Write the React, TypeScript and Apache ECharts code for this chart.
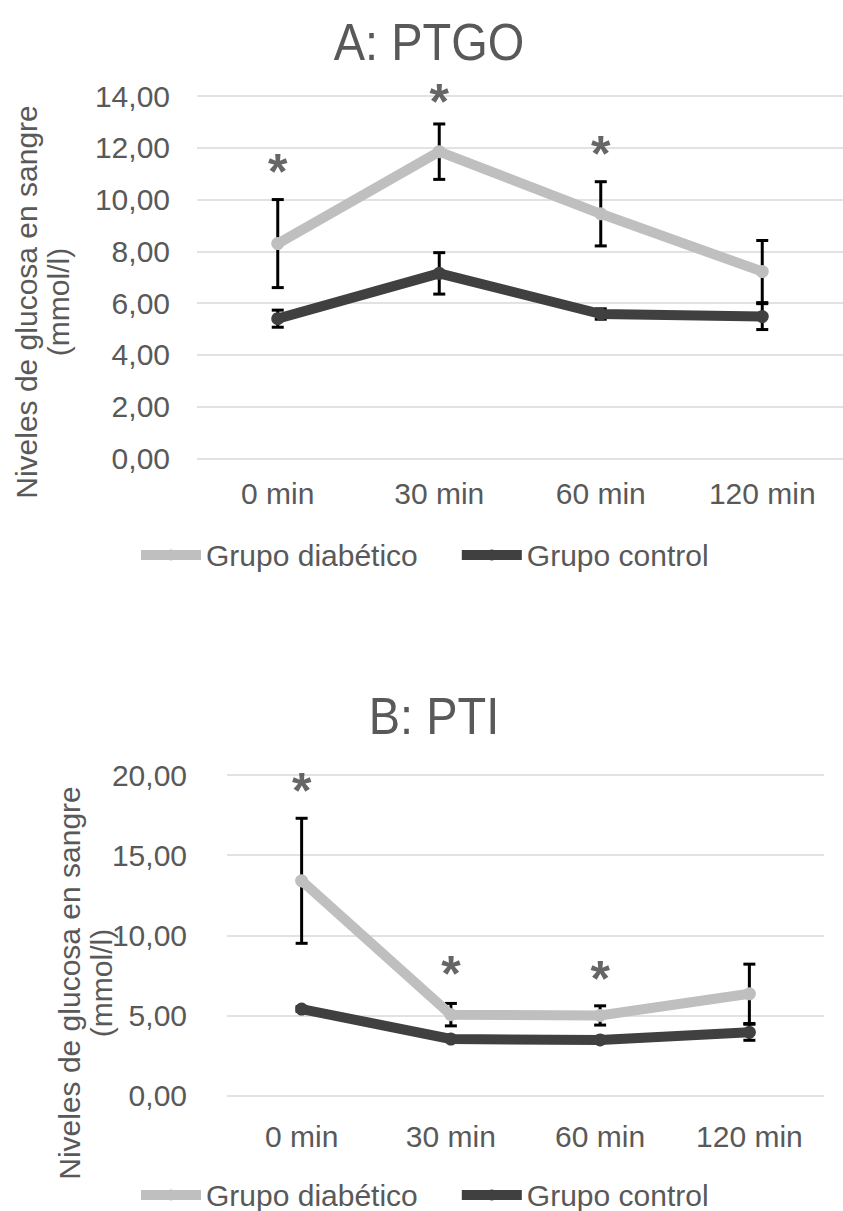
import React, { useEffect, useRef } from "react";
import * as echarts from "echarts";

const categories = ["0 min", "30 min", "60 min", "120 min"];
const seriesNames = ["Grupo diabético", "Grupo control"];

// A: PTGO
const ptgoDiab = [8.3, 11.85, 9.45, 7.22];
const ptgoDiabErr = [1.7, 1.07, 1.24, 1.2];
const ptgoCtrl = [5.4, 7.15, 5.58, 5.48];
const ptgoCtrlErr = [0.33, 0.8, 0.2, 0.5];
const ptgoStar = [11.4, 14.1, 12.1, null];

// B: PTI
const ptiDiab = [13.4, 5.05, 5.0, 6.35];
const ptiDiabErr = [3.9, 0.7, 0.6, 1.85];
const ptiCtrl = [5.4, 3.53, 3.47, 3.95];
const ptiCtrlErr = [0.15, 0.1, 0.1, 0.5];
const ptiStar = [19.55, 8.14, 7.83, null];

const FONT = "'Liberation Sans', Arial, sans-serif";
const TXT = "#595959";
const LIGHT = "#BFBFBF";
const DARK = "#404040";

function errData(vals: number[], errs: number[]) {
  return vals.map((v, i) => [i, v - errs[i], v + errs[i]]);
}

function errSeries(idx: number, vals: number[], errs: number[]) {
  return {
    type: "custom",
    xAxisIndex: idx,
    yAxisIndex: idx,
    z: 1,
    silent: true,
    data: errData(vals, errs),
    renderItem: (params: any, api: any) => {
      const x = api.value(0);
      const lo = api.coord([x, api.value(1)]);
      const hi = api.coord([x, api.value(2)]);
      const cw = 6;
      const style = { stroke: "#000", lineWidth: 3 };
      return {
        type: "group",
        children: [
          { type: "line", shape: { x1: lo[0], y1: lo[1], x2: hi[0], y2: hi[1] }, style },
          { type: "line", shape: { x1: hi[0] - cw, y1: hi[1], x2: hi[0] + cw, y2: hi[1] }, style },
          { type: "line", shape: { x1: lo[0] - cw, y1: lo[1], x2: lo[0] + cw, y2: lo[1] }, style },
        ],
      };
    },
  };
}

function lineSeries(idx: number, name: string, data: number[], color: string) {
  return {
    type: "line",
    name,
    xAxisIndex: idx,
    yAxisIndex: idx,
    z: 3,
    data,
    symbol: "circle",
    symbolSize: 13,
    itemStyle: { color },
    lineStyle: { color, width: 10 },
  };
}

function starSeries(idx: number, data: (number | null)[]) {
  return {
    type: "scatter",
    xAxisIndex: idx,
    yAxisIndex: idx,
    z: 4,
    silent: true,
    clip: false,
    symbolSize: 1,
    itemStyle: { color: "rgba(0,0,0,0)" },
    data: data.map((v, i) => (v == null ? null : [i, v])),
    label: {
      show: true,
      position: "inside",
      formatter: "*",
      fontSize: 50,
      fontWeight: "bold",
      fontFamily: FONT,
      color: DARK,
      offset: [0, 9],
    },
  };
}

const fmt = (v: number) => v.toFixed(2).replace(".", ",");

export default function App() {
  const ref = useRef<HTMLDivElement>(null);
  useEffect(() => {
    if (!ref.current) return;
    const chart = echarts.init(ref.current, null, { renderer: "svg" });
    const axisLabel = { color: TXT, fontSize: 30, fontFamily: FONT };
    const legendBase = {
      data: seriesNames,
      orient: "horizontal",
      itemWidth: 60,
      itemHeight: 14,
      itemGap: 39,
      padding: 0,
      textStyle: { color: TXT, fontSize: 30, fontFamily: FONT },
      lineStyle: { width: 10 },
    };
    chart.setOption({
      animation: false,
      backgroundColor: "#fff",
      grid: [
        { left: 197, top: 96, width: 660, height: 362.5 },
        { left: 227, top: 775, width: 597, height: 320.6 },
      ],
      xAxis: [0, 1].map((i) => ({
        type: "category",
        gridIndex: i,
        data: categories,
        boundaryGap: true,
        axisLine: { show: false },
        axisTick: { show: false },
        axisLabel: { ...axisLabel, margin: i === 0 ? 20 : 26 },
      })),
      yAxis: [
        {
          type: "value",
          gridIndex: 0,
          min: 0,
          max: 14,
          interval: 2,
          axisLine: { show: false },
          axisTick: { show: false },
          splitLine: { lineStyle: { color: "#D9D9D9", width: 1.5 } },
          axisLabel: { ...axisLabel, margin: 27, formatter: fmt },
        },
        {
          type: "value",
          gridIndex: 1,
          min: 0,
          max: 20,
          interval: 5,
          axisLine: { show: false },
          axisTick: { show: false },
          splitLine: { lineStyle: { color: "#D9D9D9", width: 1.5 } },
          axisLabel: { ...axisLabel, margin: 40, formatter: fmt },
        },
      ],
      legend: [
        { ...legendBase, left: 136, top: 540 },
        { ...legendBase, left: 136, top: 1180 },
      ],
      graphic: [
        {
          type: "text",
          x: 429,
          y: 42,
          scaleY: 1.12,
          style: { text: "A: PTGO", fontSize: 47, fontFamily: FONT, fill: TXT, textAlign: "center", textVerticalAlign: "middle" },
        },
        {
          type: "text",
          x: 434,
          y: 716,
          scaleY: 1.12,
          style: { text: "B: PTI", fontSize: 47, fontFamily: FONT, fill: TXT, textAlign: "center", textVerticalAlign: "middle" },
        },
        {
          type: "text",
          x: 42,
          y: 302,
          rotation: Math.PI / 2,
          style: {
            text: "Niveles de glucosa en sangre\n(mmol/l)",
            fontSize: 30,
            lineHeight: 32,
            fontFamily: FONT,
            fill: TXT,
            textAlign: "center",
            textVerticalAlign: "middle",
          },
        },
        {
          type: "text",
          x: 85,
          y: 983,
          rotation: Math.PI / 2,
          style: {
            text: "Niveles de glucosa en sangre\n(mmol/l)",
            fontSize: 30,
            lineHeight: 32,
            fontFamily: FONT,
            fill: TXT,
            textAlign: "center",
            textVerticalAlign: "middle",
          },
        },
      ],
      series: [
        errSeries(0, ptgoDiab, ptgoDiabErr),
        errSeries(0, ptgoCtrl, ptgoCtrlErr),
        lineSeries(0, seriesNames[0], ptgoDiab, LIGHT),
        lineSeries(0, seriesNames[1], ptgoCtrl, DARK),
        starSeries(0, ptgoStar),
        errSeries(1, ptiDiab, ptiDiabErr),
        errSeries(1, ptiCtrl, ptiCtrlErr),
        lineSeries(1, seriesNames[0], ptiDiab, LIGHT),
        lineSeries(1, seriesNames[1], ptiCtrl, DARK),
        starSeries(1, ptiStar),
      ],
    });
    return () => chart.dispose();
  }, []);
  return (
    <div
      ref={ref}
      style={{ position: "fixed", left: 0, top: 0, width: 843, height: 1211, background: "#fff" }}
    />
  );
}
